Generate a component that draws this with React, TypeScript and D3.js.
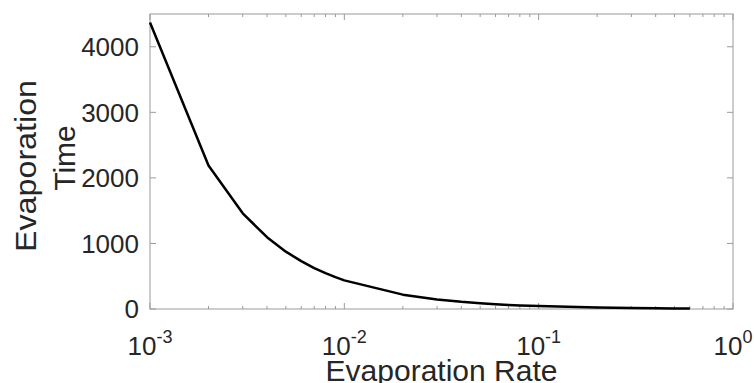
import React from "react";
import * as d3 from "d3";

const rates = [0.001, 0.002, 0.003, 0.004, 0.005, 0.006, 0.007, 0.008, 0.009, 0.01, 0.02, 0.03, 0.04, 0.05, 0.06, 0.07, 0.08, 0.09, 0.1, 0.2, 0.3, 0.4, 0.5, 0.6];
const times = [4370, 2190, 1460, 1095, 875, 730, 625, 547, 486, 437, 219, 146, 109, 87, 73, 62, 55, 49, 44, 22, 15, 11, 9, 7];
const yTicks = [0, 1000, 2000, 3000, 4000];
const xDecades = [-3, -2, -1, 0];

const W = 754, H = 383;
const L = 150, R = 733, T = 14, B = 309;
const textColor = "#262626";
const axisColor = "#9a9a9a";
const font = "'Liberation Sans', Arial, sans-serif";

export default function App() {
  const x = d3.scaleLog().domain([1e-3, 1]).range([L, R]);
  const y = d3.scaleLinear().domain([0, 4500]).range([B, T]);
  const line = d3.line<number>().x((_, i) => x(rates[i])).y((d) => y(d));

  const minor: number[] = [];
  for (let e = -3; e < 0; e++) {
    for (let m = 2; m <= 9; m++) minor.push(m * Math.pow(10, e));
  }

  return (
    <svg width={W} height={H} style={{ position: "absolute", left: 0, top: 0, display: "block", background: "#fff" }}>
      <rect x={0} y={0} width={W} height={H} fill="#fff" />
      {/* box */}
      <rect x={L} y={T} width={R - L} height={B - T} fill="none" stroke={axisColor} strokeWidth={1} />
      {/* y ticks */}
      {yTicks.map((t) => (
        <g key={"y" + t}>
          <line x1={L} x2={L + 6} y1={y(t)} y2={y(t)} stroke={axisColor} />
          <line x1={R} x2={R - 6} y1={y(t)} y2={y(t)} stroke={axisColor} />
          <text x={L - 11} y={y(t)} dy="0.36em" textAnchor="end" fontSize={26} fontFamily={font} fill={textColor}>
            {t}
          </text>
        </g>
      ))}
      {/* x minor ticks */}
      {minor.map((m) => (
        <g key={"m" + m}>
          <line x1={x(m)} x2={x(m)} y1={B} y2={B - 3} stroke={axisColor} />
          <line x1={x(m)} x2={x(m)} y1={T} y2={T + 3} stroke={axisColor} />
        </g>
      ))}
      {/* x major ticks */}
      {xDecades.map((e) => {
        const v = Math.pow(10, e);
        return (
          <g key={"x" + e}>
            <line x1={x(v)} x2={x(v)} y1={B} y2={B - 6} stroke={axisColor} />
            <line x1={x(v)} x2={x(v)} y1={T} y2={T + 6} stroke={axisColor} />
            <text x={x(v)} y={355} textAnchor="middle" fontFamily={font} fill={textColor}>
              <tspan fontSize={26}>10</tspan>
              <tspan fontSize={18} dy={-12}>{e === 0 ? "0" : "-" + Math.abs(e)}</tspan>
            </text>
          </g>
        );
      })}
      {/* data line */}
      <path d={line(times) || ""} fill="none" stroke="#000" strokeWidth={2.5} strokeLinejoin="round" />
      {/* axis labels */}
      <text x={(L + R) / 2} y={381} textAnchor="middle" fontSize={30} fontFamily={font} fill={textColor}>
        Evaporation Rate
      </text>
      <text transform="translate(36,166) rotate(-90)" textAnchor="middle" fontSize={30} fontFamily={font} fill={textColor} textLength={172} lengthAdjust="spacingAndGlyphs">
        Evaporation
      </text>
      <text transform="translate(75,158) rotate(-90)" textAnchor="middle" fontSize={30} fontFamily={font} fill={textColor}>
        Time
      </text>
    </svg>
  );
}
